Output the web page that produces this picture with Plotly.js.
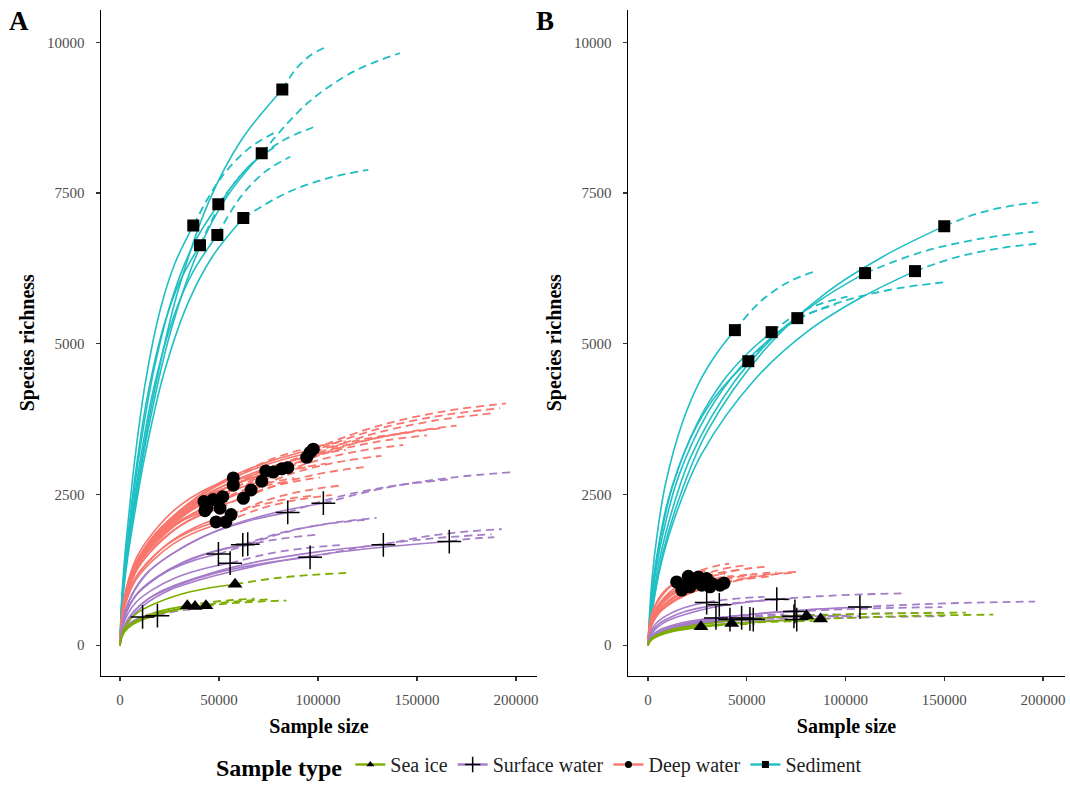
<!DOCTYPE html>
<html>
<head>
<meta charset="utf-8">
<script src="https://cdn.plot.ly/plotly-3.0.1.min.js"></script>
<style>html,body{margin:0;padding:0;background:#fff}#chart{width:1070px;height:787px}</style>
</head>
<body>
<div id="chart"></div>
<script>
// ---------- Data read from the reference (sample size n, observed richness s,
// ---------- extrapolation end xe / ye) ----------
// Panel A
const sedA_n  = [37000, 40400, 49650, 49150, 62270, 71570, 81970];
const sedA_s  = [6960, 6635, 7313, 6803, 7085, 8157, 9217];
const sedA_xe = [78000, 80000, 97600, 86000, 125400, 141400, 103500];
const sedA_ye = [8500, 8300, 8590, 8100, 7885, 9820, 9913];

const deepA_n  = [42400, 42900, 43800, 47000, 48500, 50500, 51900, 53500, 56100, 57200, 57200, 62300, 66200, 71600, 73600, 77400, 81700, 84800, 94300, 96000, 97600];
const deepA_s  = [2382, 2230, 2272, 2414, 2044, 2272, 2463, 2044, 2165, 2773, 2654, 2436, 2573, 2719, 2887, 2871, 2925, 2944, 3116, 3197, 3251];
const deepA_xe = [85000, 86000, 88000, 94000, 97000, 101000, 104000, 107000, 112000, 114000, 114000, 125000, 132000, 143000, 147000, 155000, 163000, 170000, 189000, 192000, 195000];
const deepA_ye = [2900, 2720, 2770, 2950, 2480, 2780, 3010, 2490, 2650, 3380, 3240, 2960, 3140, 3320, 3530, 3480, 3600, 3640, 3850, 3930, 4010];

const surfA_n  = [11400, 18900, 49700, 55600, 62000, 64500, 84700, 96000, 102700, 133000, 166300];
const surfA_s  = [468, 489, 1512, 1359, 1664, 1675, 2202, 1457, 2354, 1664, 1718];
const surfA_xe = [23000, 38000, 99000, 111000, 124600, 129600, 168000, 187700, 198600, 192800, 189000];
const surfA_ye = [560, 600, 1830, 1660, 2083, 2110, 2752, 1838, 2871, 1925, 1790];

const iceA_n  = [34000, 37900, 43400, 58100];
const iceA_s  = [652, 641, 652, 1011];
const iceA_xe = [68000, 76000, 84000, 116000];
const iceA_ye = [770, 760, 740, 1200];

// Panel B
const sedB_n  = [44000, 50800, 62600, 75600, 109900, 135200, 150000];
const sedB_s  = [5225, 4710, 5192, 5424, 6171, 6204, 6950];
const sedB_xe = [84600, 95000, 101000, 151200, 195100, 199300, 197600];
const sedB_ye = [6200, 5650, 5780, 6024, 6857, 6667, 7346];

const deepB_n  = [14500, 17100, 19500, 20400, 21300, 23000, 25500, 27200, 29700, 31400, 32300, 36500, 38500];
const deepB_s  = [1049, 914, 1000, 1142, 968, 1049, 1131, 995, 1104, 968, 1023, 995, 1030];
const deepB_xe = [29000, 34000, 39000, 41000, 43000, 46000, 51000, 54000, 59000, 63000, 65000, 73000, 75000];
const deepB_ye = [1230, 1080, 1180, 1350, 1150, 1250, 1330, 1180, 1300, 1140, 1210, 1200, 1215];

const surfB_n  = [29700, 34400, 36100, 41500, 47400, 51600, 53300, 65200, 73900, 74400, 75300, 107300];
const surfB_s  = [707, 452, 669, 424, 452, 435, 424, 762, 478, 560, 424, 631];
const surfB_xe = [59000, 69000, 72000, 83000, 95000, 103000, 107000, 131000, 148000, 149000, 150000, 196000];
const surfB_ye = [800, 510, 760, 480, 510, 490, 480, 860, 540, 630, 480, 723];

const iceB_n  = [26800, 42400, 80300, 87400];
const iceB_s  = [305, 359, 489, 435];
const iceB_xe = [54000, 85000, 161000, 174800];
const iceB_ye = [350, 400, 540, 506];

const sedA_fx = [0, 0.02, 0.06, 0.12, 0.2, 0.35, 0.55, 0.75, 1];
const sedA_fy = [0, 0.10, 0.20, 0.31, 0.44, 0.63, 0.80, 0.91, 1];
const sedB_fx = [0, 0.02, 0.05, 0.1, 0.2, 0.4, 0.6, 0.8, 1];
const sedB_fy = [0, 0.11, 0.22, 0.34, 0.51, 0.71, 0.84, 0.93, 1];
const low_fx  = [0, 0.01, 0.03, 0.07, 0.15, 0.3, 0.5, 0.75, 1];
const low_fy  = [0, 0.12, 0.25, 0.38, 0.53, 0.68, 0.82, 0.93, 1];
const ext_fx  = [0, 0.33, 0.67, 1];
const ext_fy  = [0, 0.5, 0.82, 1];

const legendNames = ['Sea ice', 'Surface water', 'Deep water', 'Sediment'];
const xTicks = [0, 50000, 100000, 150000, 200000];
const xTickText = ['0', '50000', '100000', '150000', '200000'];
const yTicks = [0, 2500, 5000, 7500, 10000];
const yTickText = ['0', '2500', '5000', '7500', '10000'];

// ---------- Styles ----------
const FONT = '"Liberation Serif", "Times New Roman", serif';
const styles = {
  'Sea ice':       {color: '#7CAE00', symbol: 'triangle-up', size: 13},
  'Surface water': {color: '#A57CC8', symbol: 'cross-thin-open', size: 17},
  'Deep water':    {color: '#F8766D', symbol: 'circle', size: 13},
  'Sediment':      {color: '#1FBFC4', symbol: 'square', size: 12}
};

function solidXY(n, s, fx, fy) {
  const x = [], y = [];
  for (let i = 0; i < n.length; i++) {
    for (let j = 0; j < fx.length; j++) { x.push(n[i] * fx[j]); y.push(s[i] * fy[j]); }
    x.push(null); y.push(null);
  }
  return {x, y};
}
function extXY(n, s, xe, ye) {
  const x = [], y = [];
  for (let i = 0; i < n.length; i++) {
    for (let j = 0; j < ext_fx.length; j++) {
      x.push(n[i] + (xe[i] - n[i]) * ext_fx[j]);
      y.push(s[i] + (ye[i] - s[i]) * ext_fy[j]);
    }
    x.push(null); y.push(null);
  }
  return {x, y};
}

const panels = [
  {xa: 'x', ya: 'y', groups: [
    ['Sediment', sedA_n, sedA_s, sedA_xe, sedA_ye, sedA_fx, sedA_fy],
    ['Deep water', deepA_n, deepA_s, deepA_xe, deepA_ye, low_fx, low_fy],
    ['Surface water', surfA_n, surfA_s, surfA_xe, surfA_ye, low_fx, low_fy],
    ['Sea ice', iceA_n, iceA_s, iceA_xe, iceA_ye, low_fx, low_fy]
  ]},
  {xa: 'x2', ya: 'y2', groups: [
    ['Sediment', sedB_n, sedB_s, sedB_xe, sedB_ye, sedB_fx, sedB_fy],
    ['Deep water', deepB_n, deepB_s, deepB_xe, deepB_ye, low_fx, low_fy],
    ['Surface water', surfB_n, surfB_s, surfB_xe, surfB_ye, low_fx, low_fy],
    ['Sea ice', iceB_n, iceB_s, iceB_xe, iceB_ye, low_fx, low_fy]
  ]}
];

const traces = [];
// legend entries
legendNames.forEach(nm => {
  const st = styles[nm];
  traces.push({
    x: [null], y: [null], type: 'scatter', mode: 'lines+markers', name: nm,
    line: {color: st.color, width: 2.4},
    marker: {color: 'black', symbol: st.symbol, size: st.symbol === 'cross-thin-open' ? 11 : 7,
             line: {color: 'black', width: st.symbol === 'cross-thin-open' ? 1.5 : 0}},
    showlegend: true, hoverinfo: 'skip'
  });
});

panels.forEach(p => {
  p.groups.forEach(g => {
    const [nm, n, s, xe, ye, fx, fy] = g;
    const st = styles[nm];
    const sol = solidXY(n, s, fx, fy);
    traces.push({x: sol.x, y: sol.y, xaxis: p.xa, yaxis: p.ya, type: 'scatter', mode: 'lines',
      line: {color: st.color, width: 1.6, shape: 'spline', smoothing: 1}, connectgaps: false,
      showlegend: false, hoverinfo: 'skip'});
    const ex = extXY(n, s, xe, ye);
    traces.push({x: ex.x, y: ex.y, xaxis: p.xa, yaxis: p.ya, type: 'scatter', mode: 'lines',
      line: {color: st.color, width: 1.8, dash: '8px,5px', shape: 'spline', smoothing: 1}, connectgaps: false,
      showlegend: false, hoverinfo: 'skip'});
  });
  p.groups.forEach(g => {
    const [nm, n, s] = g;
    const st = styles[nm];
    traces.push({x: n, y: s, xaxis: p.xa, yaxis: p.ya, type: 'scatter', mode: 'markers',
      marker: {color: 'black', symbol: st.symbol, size: st.size,
               line: {color: 'black', width: st.symbol === 'cross-thin-open' ? 1.5 : 0}},
      showlegend: false, name: nm});
  });
});

function xAxis(domain, range, anchor) {
  return {
    domain: domain, range: range, anchor: anchor,
    tickvals: xTicks, ticktext: xTickText,
    showline: true, linecolor: 'black', linewidth: 1.4, mirror: false,
    ticks: 'outside', ticklen: 4, tickwidth: 1.1, tickcolor: '#333', ticklabelstandoff: 6,
    tickfont: {family: FONT, size: 15, color: '#4D4D4D'},
    showgrid: false, zeroline: false,
    title: {text: 'Sample size', font: {family: FONT, size: 20, color: 'black', weight: 'bold'}, standoff: 12}
  };
}
function yAxis(domain, range, anchor) {
  return {
    domain: domain, range: range, anchor: anchor,
    tickvals: yTicks, ticktext: yTickText,
    showline: true, linecolor: 'black', linewidth: 1.4, mirror: false,
    ticks: 'outside', ticklen: 4, tickwidth: 1.1, tickcolor: '#333', ticklabelstandoff: 8,
    tickfont: {family: FONT, size: 15, color: '#4D4D4D'},
    showgrid: false, zeroline: false,
    title: {text: 'Species richness', font: {family: FONT, size: 20, color: 'black', weight: 'bold'}, standoff: 7}
  };
}

const W = 1070, H = 787;
const yDom = [1 - 687 / H, 1 - 10 / H];
const layout = {
  width: W, height: H,
  margin: {l: 0, r: 0, t: 0, b: 0},
  paper_bgcolor: 'white', plot_bgcolor: 'white',
  font: {family: FONT},
  xaxis: xAxis([101 / W, 537 / W], [-9600, 210600], 'y'),
  yaxis: yAxis(yDom, [-506, 10538], 'x'),
  xaxis2: xAxis([628 / W, 1065 / W], [-10127, 211139], 'y2'),
  yaxis2: yAxis(yDom, [-506, 10538], 'x2'),
  showlegend: true,
  legend: {
    orientation: 'h', x: 214 / W, xanchor: 'left', y: 1 - 779 / H, yanchor: 'middle',
    title: {text: 'Sample type', side: 'left', font: {family: FONT, size: 24, color: 'black', weight: 'bold'}},
    font: {family: FONT, size: 20, color: '#222'},
    itemwidth: 30, bgcolor: 'rgba(0,0,0,0)'
  },
  annotations: [
    {text: 'A', x: 19 / W, y: 1 - 21 / H, xref: 'paper', yref: 'paper', xanchor: 'center', yanchor: 'middle', showarrow: false,
     font: {family: FONT, size: 27, color: 'black', weight: 'bold'}},
    {text: 'B', x: 545 / W, y: 1 - 21 / H, xref: 'paper', yref: 'paper', xanchor: 'center', yanchor: 'middle', showarrow: false,
     font: {family: FONT, size: 27, color: 'black', weight: 'bold'}}
  ]
};

Plotly.newPlot('chart', traces, layout, {staticPlot: true, displayModeBar: false});
</script>
</body>
</html>
